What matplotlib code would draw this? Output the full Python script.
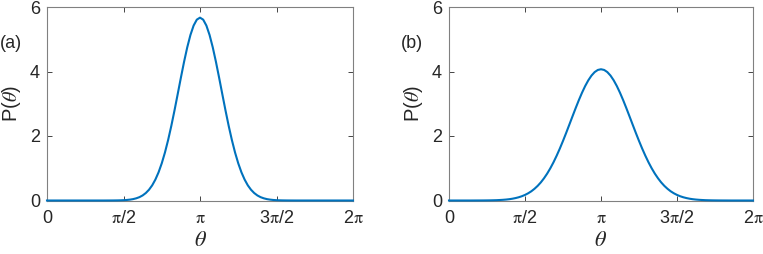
import numpy as np
import matplotlib
matplotlib.use("Agg")
import matplotlib.pyplot as plt

plt.rcParams['font.family'] = ['Liberation Sans', 'DejaVu Sans']
plt.rcParams['mathtext.fontset'] = 'stix'

# sample positions: multiples of pi/48 from 0 to 2*pi
theta_steps = list(range(0, 97))

# panel (a) values
P_a = [0, 0, 0, 0, 0, 0, 0, 0, 0, 0, 0, 0, 0, 0, 0, 0, 0, 0, 0,
       0.0005, 0.001, 0.0018, 0.0032, 0.0056, 0.0097, 0.016, 0.027, 0.043, 0.068,
       0.104, 0.157, 0.232, 0.334, 0.470, 0.649, 0.874, 1.153, 1.487, 1.876,
       2.314, 2.793, 3.297, 3.807, 4.300, 4.750, 5.133, 5.425, 5.608,
       5.67,
       5.608, 5.425, 5.133, 4.750, 4.300, 3.807, 3.297, 2.793, 2.314,
       1.876, 1.487, 1.153, 0.874, 0.649, 0.470, 0.334, 0.232, 0.157, 0.104,
       0.068, 0.043, 0.027, 0.016, 0.0097, 0.0056, 0.0032, 0.0018, 0.001, 0.0005,
       0, 0, 0, 0, 0, 0, 0, 0, 0, 0, 0, 0, 0, 0, 0, 0, 0, 0, 0]

# panel (b) values
P_b = [0, 0, 0, 0, 0, 0, 0, 0,
       0.0006, 0.001, 0.0015, 0.0022, 0.0033, 0.0049, 0.0072, 0.010, 0.015, 0.021,
       0.029, 0.040, 0.055, 0.075, 0.100, 0.132, 0.173, 0.224, 0.286, 0.363,
       0.454, 0.562, 0.689, 0.834, 1.000, 1.185, 1.390, 1.611, 1.848, 2.096,
       2.352, 2.610, 2.865, 3.111, 3.341, 3.549, 3.728, 3.874, 3.982, 4.048,
       4.07,
       4.048, 3.982, 3.874, 3.728, 3.549, 3.341, 3.111, 2.865, 2.610, 2.352,
       2.096, 1.848, 1.611, 1.390, 1.185, 1.000, 0.834, 0.689, 0.562, 0.454,
       0.363, 0.286, 0.224, 0.173, 0.132, 0.100, 0.075, 0.055, 0.040, 0.029,
       0.021, 0.015, 0.010, 0.0072, 0.0049, 0.0033, 0.0022, 0.0015, 0.001, 0.0006,
       0, 0, 0, 0, 0, 0, 0, 0]

xtick_labels = ['0', r'$\mathrm{\pi}$/2', r'$\mathrm{\pi}$', r'3$\mathrm{\pi}$/2', r'2$\mathrm{\pi}$']
ytick_vals = [0, 2, 4, 6]
panel_labels = ['(a)', '(b)']

theta = np.array(theta_steps) * np.pi / 48

W, H = 763, 254
fig = plt.figure(figsize=(W / 100, H / 100), dpi=100)

axes_px = [(47, 306), (449, 304)]
panel_label_px = [(0, 43), (401, 43)]
blue = (0, 0.447, 0.741)
axcol = (0.15, 0.15, 0.15)

for (x0, w), P, lab, (lx, ly) in zip(axes_px, [P_a, P_b], panel_labels, panel_label_px):
    ax = fig.add_axes([x0 / W, (H - 200.5) / H, w / W, 193.5 / H])
    ax.plot(theta, P, color=blue, lw=1.5, clip_on=False, zorder=3)
    ax.set_xlim(0, 2 * np.pi)
    ax.set_ylim(0, 6)
    ax.set_xticks(np.arange(5) * np.pi / 2)
    ax.set_xticklabels(xtick_labels)
    ax.set_yticks(ytick_vals)
    ax.tick_params(direction='in', top=True, right=True, length=3.5, width=0.6,
                   colors=axcol, labelsize=13)
    ax.tick_params(axis='x', pad=7)
    ax.tick_params(axis='y', pad=5)
    for s in ax.spines.values():
        s.set_color((0.5, 0.5, 0.5))
        s.set_linewidth(0.8)
    ax.set_xlabel(r'$\theta$', fontsize=16, color=axcol, labelpad=2)
    ax.set_ylabel(r'P($\theta$)', fontsize=14.5, color=axcol, labelpad=5)
    fig.text(lx / W, 1 - ly / H, lab, fontsize=13, color=axcol, ha='left', va='center')

fig.savefig('out.png', dpi=100)
